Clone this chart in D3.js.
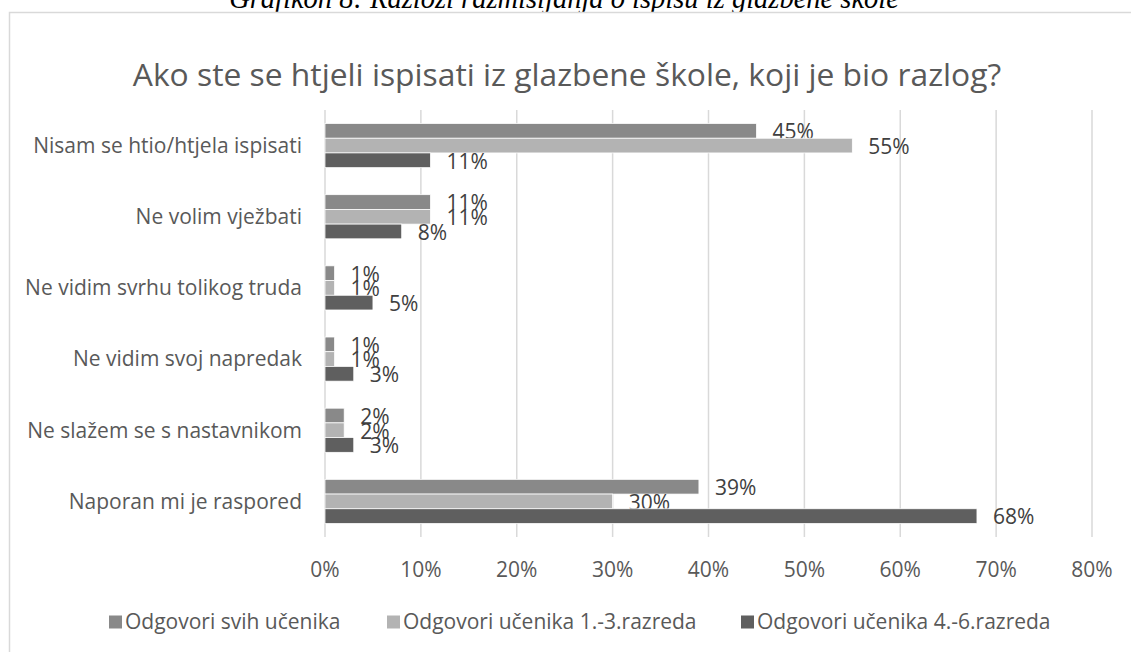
<!DOCTYPE html>
<html>
<head>
<meta charset="utf-8">
<script src="https://cdn.jsdelivr.net/npm/d3@7"></script>
<style>
  html, body { margin: 0; padding: 0; background: #fff; }
  svg { display: block; }
</style>
</head>
<body>
<svg id="chart" width="1131" height="652"></svg>
<script>
const categories = [
  'Nisam se htio/htjela ispisati',
  'Ne volim vježbati',
  'Ne vidim svrhu tolikog truda',
  'Ne vidim svoj napredak',
  'Ne slažem se s nastavnikom',
  'Naporan mi je raspored'
];
const seriesNames = ['Odgovori svih učenika', 'Odgovori učenika 1.-3.razreda', 'Odgovori učenika 4.-6.razreda'];
const sviUcenici = [45, 11, 1, 1, 2, 39];
const razredi13 = [55, 11, 1, 1, 2, 30];
const razredi46 = [11, 8, 5, 3, 3, 68];
const xTicks = [0, 10, 20, 30, 40, 50, 60, 70, 80];
const colors = ['#898989', '#b3b3b3', '#5f5f5f'];

const series = [sviUcenici, razredi13, razredi46];
const font = '"Open Sans", sans-serif';

const svg = d3.select('#chart');

svg.append('rect').attr('width', 1131).attr('height', 652).attr('fill', '#fff');

// caption of the document, cut off by the crop
svg.append('text')
  .attr('x', 564).attr('y', 8)
  .attr('text-anchor', 'middle')
  .attr('font-family', '"Liberation Serif", serif')
  .attr('font-style', 'italic')
  .attr('font-size', 28.5)
  .attr('fill', '#000')
  .text('Grafikon 8: Razlozi razmišljanja o ispisu iz glazbene škole');

// chart frame
svg.append('rect')
  .attr('x', 9.5).attr('y', 12.5)
  .attr('width', 1140).attr('height', 660)
  .attr('fill', '#fff')
  .attr('stroke', '#d9d9d9')
  .attr('stroke-width', 1.5);

svg.append('text')
  .attr('x', 567).attr('y', 86)
  .attr('text-anchor', 'middle')
  .attr('font-family', font)
  .attr('font-size', 31.8)
  .attr('fill', '#595959')
  .text('Ako ste se htjeli ispisati iz glazbene škole, koji je bio razlog?');

const x = d3.scaleLinear().domain([0, 80]).range([325, 1092]);
const y = d3.scaleBand().domain(categories).range([110, 537]).paddingInner(0.38).paddingOuter(0.19);
const ySub = d3.scaleBand().domain(d3.range(series.length)).range([0, y.bandwidth()]);

// gridlines
svg.append('g')
  .selectAll('line')
  .data(xTicks)
  .join('line')
  .attr('x1', d => x(d)).attr('x2', d => x(d))
  .attr('y1', 110).attr('y2', 537)
  .attr('stroke', '#d9d9d9')
  .attr('stroke-width', 1.5);

// x tick labels
svg.append('g')
  .selectAll('text')
  .data(xTicks)
  .join('text')
  .attr('x', d => x(d))
  .attr('y', 570)
  .attr('dy', '0.35em')
  .attr('text-anchor', 'middle')
  .attr('font-family', font)
  .attr('font-size', 21)
  .attr('fill', '#595959')
  .text(d => d + '%');

// category labels
svg.append('g')
  .selectAll('text')
  .data(categories)
  .join('text')
  .attr('x', 302)
  .attr('y', d => y(d) + y.bandwidth() / 2)
  .attr('dy', '0.35em')
  .attr('text-anchor', 'end')
  .attr('font-family', font)
  .attr('font-size', 21)
  .attr('fill', '#595959')
  .text(d => d);

// bars and value labels
series.forEach((values, si) => {
  const g = svg.append('g');
  g.selectAll('rect')
    .data(values)
    .join('rect')
    .attr('x', x(0))
    .attr('y', (d, i) => y(categories[i]) + ySub(si))
    .attr('width', d => x(d) - x(0))
    .attr('height', ySub.bandwidth())
    .attr('fill', colors[si])
    .attr('stroke', '#fff')
    .attr('stroke-width', 0.75);

  g.selectAll('text')
    .data(values)
    .join('text')
    .attr('x', d => x(d) + 16)
    .attr('y', (d, i) => y(categories[i]) + ySub(si) + ySub.bandwidth() / 2 + 1)
    .attr('dy', '0.35em')
    .attr('font-family', font)
    .attr('font-size', 21)
    .attr('fill', '#404040')
    .text(d => d + '%');
});

// legend
const legendX = [109, 387, 741];
const legend = svg.append('g')
  .selectAll('g')
  .data(seriesNames)
  .join('g')
  .attr('transform', (d, i) => `translate(${legendX[i]},622)`);

legend.append('rect')
  .attr('x', 0).attr('y', -6.5)
  .attr('width', 13).attr('height', 13)
  .attr('fill', (d, i) => colors[i]);

legend.append('text')
  .attr('x', 16)
  .attr('dy', '0.35em')
  .attr('font-family', font)
  .attr('font-size', 21)
  .attr('fill', '#595959')
  .text(d => d);
</script>
</body>
</html>
